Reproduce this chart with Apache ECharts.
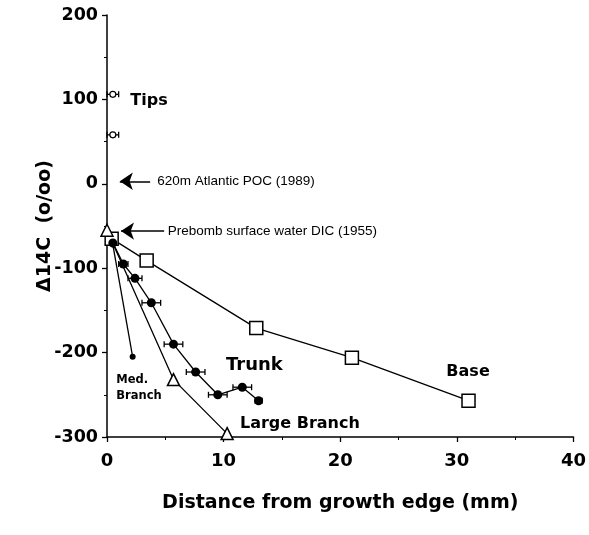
<!DOCTYPE html>
<html>
<head>
<meta charset="utf-8">
<script src="https://cdn.jsdelivr.net/npm/echarts@6/dist/echarts.min.js"></script>
<style>
  html, body { margin: 0; padding: 0; background: #fff; }
  #chart { width: 589px; height: 535px; }
</style>
</head>
<body>
<div id="chart"></div>
<script>
// values (x: mm from growth edge, y: Δ14C o/oo)
var tipsX = [0.5, 0.5];
var tipsY = [106, 58];
var tipsErr = [0.5, 0.5];

var trunkX = [0.5, 1.4, 2.4, 3.8, 5.7, 7.6, 9.5, 11.6, 13.0];
var trunkY = [-70, -95, -112, -141, -190, -223, -250, -241, -257];
var trunkErr = [0, 0.4, 0.6, 0.8, 0.8, 0.8, 0.8, 0.8, 0.3];

var baseX = [0.4, 3.4, 12.8, 21.0, 31.0];
var baseY = [-65, -91, -171, -206, -257];

var largeX = [0, 5.7, 10.3];
var largeY = [-55, -232, -296];

var medX = [0.5, 2.2];
var medY = [-72, -205];

// annotation text + arrows
var seriesLabels = [
  { name: 'Tips', x: 2.0, y: 98, size: 16 },
  { name: 'Trunk', x: 10.2, y: -215, size: 18 },
  { name: 'Base', x: 29.1, y: -223, size: 16 },
  { name: 'Large Branch', x: 11.4, y: -285, size: 16 },
  { name: 'Med.\nBranch', x: 0.8, y: -242, size: 11.5 }
];
var arrows = [
  { text: '620m Atlantic POC (1989)', tip: [1.1, 3], tail: [3.7, 3], textX: 4.3 },
  { text: 'Prebomb surface water DIC (1955)', tip: [1.2, -56], tail: [4.9, -56], textX: 5.2 }
];

var FONT = 'DejaVu Sans';

function pairs(xs, ys) {
  return xs.map(function (x, i) { return [x, ys[i]]; });
}
function triples(xs, ys, es) {
  return xs.map(function (x, i) { return [x, ys[i], es[i]]; });
}

function errorBars(params, api) {
  var x = api.value(0), y = api.value(1), e = api.value(2);
  if (!e) return null;
  var lo = api.coord([x - e, y]);
  var hi = api.coord([x + e, y]);
  var st = { stroke: '#000', lineWidth: 1.3 };
  return {
    type: 'group',
    children: [
      { type: 'line', shape: { x1: lo[0], y1: lo[1], x2: hi[0], y2: hi[1] }, style: st },
      { type: 'line', shape: { x1: lo[0], y1: lo[1] - 3, x2: lo[0], y2: lo[1] + 3 }, style: st },
      { type: 'line', shape: { x1: hi[0], y1: hi[1] - 3, x2: hi[0], y2: hi[1] + 3 }, style: st }
    ]
  };
}

var lineStyle = { color: '#000', width: 1.3 };
var boldText = { fontFamily: FONT, fontWeight: 'bold', color: '#000' };

var chart = echarts.init(document.getElementById('chart'));
var option = {
  animation: false,
  grid: { left: 107, right: 13, top: 15, bottom: 98 },
  xAxis: {
    type: 'value', min: 0, max: 40, interval: 10,
    name: 'Distance from growth edge (mm)',
    nameLocation: 'middle', nameGap: 57, nameMoveOverlap: false,
    nameTextStyle: Object.assign({ fontSize: 19 }, boldText),
    axisLine: { onZero: false, lineStyle: { color: '#000', width: 1.5 } },
    axisTick: { inside: false, length: 5, lineStyle: { color: '#000', width: 1.3 } },
    minorTick: { show: true, splitNumber: 2, length: 3, lineStyle: { color: '#000' } },
    axisLabel: Object.assign({ fontSize: 18, margin: 15 }, boldText),
    splitLine: { show: false }
  },
  yAxis: {
    type: 'value', min: -300, max: 200, interval: 100,
    name: 'Δ14C  (o/oo)',
    nameLocation: 'middle', nameGap: 52, nameRotate: 90, nameMoveOverlap: false,
    nameTextStyle: Object.assign({ fontSize: 19 }, boldText),
    axisLine: { show: true, onZero: false, lineStyle: { color: '#000', width: 1.5 } },
    axisTick: { show: true, length: 5, lineStyle: { color: '#000', width: 1.3 } },
    minorTick: { show: true, splitNumber: 2, length: 3, lineStyle: { color: '#000' } },
    axisLabel: Object.assign({ fontSize: 17.5, margin: 9 }, boldText),
    splitLine: { show: false }
  },
  series: [
    {
      type: 'line', name: 'Base', data: pairs(baseX, baseY),
      symbol: 'rect', symbolSize: 13, lineStyle: lineStyle,
      itemStyle: { color: '#fff', borderColor: '#000', borderWidth: 1.5 }, z: 3
    },
    {
      type: 'line', name: 'Large Branch', data: pairs(largeX, largeY),
      symbol: 'triangle', symbolSize: 12, lineStyle: lineStyle,
      itemStyle: { color: '#fff', borderColor: '#000', borderWidth: 1.5 }, z: 3
    },
    {
      type: 'line', name: 'Med. Branch', data: pairs(medX, medY),
      symbol: 'circle', symbolSize: 6, lineStyle: lineStyle,
      itemStyle: { color: '#000' }, z: 3
    },
    {
      type: 'custom', name: 'trunkErr', data: triples(trunkX, trunkY, trunkErr),
      renderItem: errorBars, z: 4
    },
    {
      type: 'line', name: 'Trunk', data: pairs(trunkX, trunkY),
      symbol: 'circle', symbolSize: 9, lineStyle: lineStyle,
      itemStyle: { color: '#000' }, z: 5
    },
    {
      type: 'custom', name: 'tipsErr', data: triples(tipsX, tipsY, tipsErr),
      renderItem: errorBars, z: 4
    },
    {
      type: 'scatter', name: 'Tips', data: pairs(tipsX, tipsY),
      symbol: 'circle', symbolSize: 6,
      itemStyle: { color: '#fff', borderColor: '#000', borderWidth: 1.2, opacity: 1 }, z: 5
    },
    {
      type: 'scatter', name: 'labels', silent: true, symbolSize: 0,
      itemStyle: { color: '#000', opacity: 1 },
      label: Object.assign({
        show: true, position: 'right', distance: 0, align: 'left',
        formatter: function (p) { return seriesLabels[p.dataIndex].name; }
      }, boldText),
      data: seriesLabels.map(function (l) {
        return {
          value: [l.x, l.y],
          label: { fontSize: l.size, lineHeight: l.size + 5, color: '#000' }
        };
      })
    },
    {
      type: 'scatter', name: 'arrowText', silent: true, symbolSize: 0,
      itemStyle: { color: '#000', opacity: 1 },
      label: {
        show: true, position: 'right', distance: 0, align: 'left',
        formatter: function (p) { return arrows[p.dataIndex].text; },
        fontFamily: 'Liberation Sans', fontSize: 13.5, color: '#000'
      },
      data: arrows.map(function (a) { return [a.textX, a.tip[1]]; })
    },
    {
      type: 'lines', coordinateSystem: 'cartesian2d', silent: true,
      symbol: ['none', 'arrow'], symbolSize: [10, 13],
      lineStyle: { color: '#000', width: 1.6, opacity: 1 },
      data: arrows.map(function (a) { return { coords: [a.tail, a.tip] }; })
    }
  ]
};
chart.setOption(option);
</script>
</body>
</html>
